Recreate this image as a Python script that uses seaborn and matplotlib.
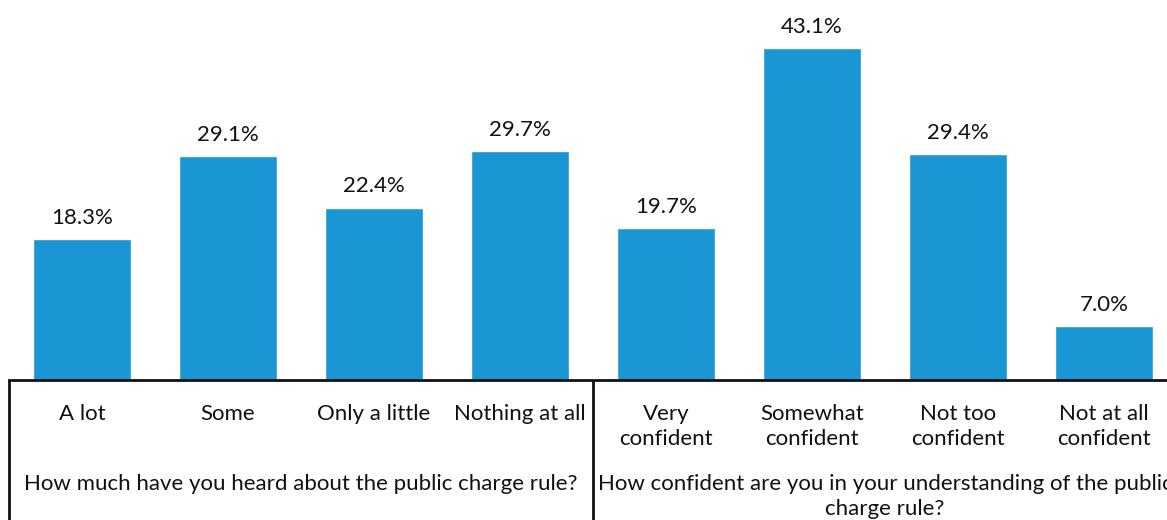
import matplotlib
matplotlib.use("Agg")
import matplotlib.pyplot as plt
import seaborn as sns
import pandas as pd

categories = ["A lot", "Some", "Only a little", "Nothing at all",
              "Very\nconfident", "Somewhat\nconfident", "Not too\nconfident", "Not at all\nconfident"]
values = [18.3, 29.1, 22.4, 29.7, 19.7, 43.1, 29.4, 7.0]
value_labels = ["18.3%", "29.1%", "22.4%", "29.7%", "19.7%", "43.1%", "29.4%", "7.0%"]
groups = ["How much have you heard about the public charge rule?",
          "How confident are you in your understanding of the public\ncharge rule?"]
group_sizes = [4, 4]

sns.set_theme(style="white")
plt.rcParams["font.family"] = ["Lato", "DejaVu Sans"]

W, H = 1167, 520
fig = plt.figure(figsize=(W / 100, H / 100), dpi=100)
ax = fig.add_axes([9 / W, (H - 380) / H, (8 * 146) / W, 380 / H])

df = pd.DataFrame({"cat": categories, "val": values})
sns.barplot(data=df, x="cat", y="val", color="#1996d3", width=0.67,
            saturation=1, ax=ax)

ax.set_ylim(0, 380 / 7.70)
ax.set_xlim(-0.5, len(categories) - 0.5)
ax.bar_label(ax.containers[0], labels=value_labels, padding=8,
             fontsize=16, color="#111111")

for s in ["top", "right", "left"]:
    ax.spines[s].set_visible(False)
ax.spines["bottom"].set_linewidth(2)
ax.spines["bottom"].set_color("#111111")
ax.set_yticks([])
ax.set_xlabel("")
ax.set_ylabel("")
ax.tick_params(axis="x", length=0, pad=17, labelsize=16, labelcolor="#111111")
for lab in ax.get_xticklabels():
    lab.set_linespacing(1.33)
    lab.set_verticalalignment("top")

# group separators and labels
trans = ax.get_xaxis_transform()
drop = -(140 / 380)
edges = [-0.5]
for g in group_sizes:
    edges.append(edges[-1] + g)
for e in edges:
    ax.plot([e, e], [0, drop], transform=trans, color="#111111", lw=2,
            clip_on=False, solid_capstyle="butt")
for i, g in enumerate(groups):
    center = (edges[i] + edges[i + 1]) / 2
    ax.text(center, -(94 / 380), g, transform=trans, ha="center", va="top",
            fontsize=16, color="#111111", linespacing=1.33)

fig.savefig("out.png", dpi=100)
